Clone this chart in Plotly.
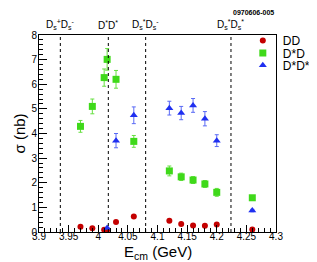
import plotly.graph_objects as go

# ---- data ----
dd_E = [3.97, 3.99, 4.01, 4.015, 4.03, 4.06, 4.12, 4.14, 4.16, 4.18, 4.20, 4.26]
dd_sigma = [0.21, 0.15, 0.09, 0.08, 0.41, 0.63, 0.46, 0.32, 0.26, 0.25, 0.30, 0.10]
dd_err = [0.03, 0.03, 0.02, 0.02, 0.04, 0.05, 0.04, 0.03, 0.03, 0.03, 0.03, 0.02]

dsd_E = [3.97, 3.99, 4.01, 4.015, 4.03, 4.06, 4.12, 4.14, 4.16, 4.18, 4.20, 4.26]
dsd_sigma = [4.29, 5.10, 6.27, 7.01, 6.20, 3.68, 2.48, 2.24, 2.11, 1.95, 1.61, 1.39]
dsd_err = [0.24, 0.30, 0.35, 0.44, 0.36, 0.24, 0.20, 0.15, 0.14, 0.14, 0.16, 0.06]

dsds_E = [4.015, 4.03, 4.06, 4.12, 4.14, 4.16, 4.18, 4.20, 4.26]
dsds_sigma = [0.16, 3.71, 4.74, 5.03, 4.83, 5.14, 4.60, 3.71, 0.87]
dsds_err = [0.03, 0.29, 0.34, 0.28, 0.27, 0.28, 0.29, 0.24, 0.05]

thresholds = [3.936, 4.017, 4.080, 4.224]
threshold_labels = [
    "D<sub>s</sub><sup>+</sup>D<sub>s</sub><sup>-</sup>",
    "D<sup>*</sup>D<sup>*</sup>",
    "D<sub>s</sub><sup>*</sup>D<sub>s</sub><sup>-</sup>",
    "D<sub>s</sub><sup>*</sup>D<sub>s</sub><sup>*</sup>",
]

FONT = "Liberation Sans, Arial, sans-serif"
RED = "#c40000"
GREEN = "#3fd91a"
BLUE = "#1f2ff0"

fig = go.Figure()
fig.add_trace(go.Scatter(
    x=dd_E, y=dd_sigma, mode="markers", name="DD", legend="legend",
    marker=dict(symbol="circle", size=6, color=RED),
    error_y=dict(type="data", array=dd_err, color=RED, thickness=1, width=0),
))
fig.add_trace(go.Scatter(
    x=dsd_E, y=dsd_sigma, mode="markers", name="D*D", legend="legend2",
    marker=dict(symbol="square", size=7, color=GREEN),
    error_y=dict(type="data", array=dsd_err, color="#66e040", thickness=1, width=2),
))
fig.add_trace(go.Scatter(
    x=dsds_E, y=dsds_sigma, mode="markers", name="D*D*", legend="legend3",
    marker=dict(symbol="triangle-up", size=7, color=BLUE),
    error_y=dict(type="data", array=dsds_err, color="#5a6af5", thickness=1, width=2),
))

for xv, lab in zip(thresholds, threshold_labels):
    fig.add_shape(type="line", xref="x", yref="paper", x0=xv, x1=xv, y0=0, y1=1,
                  line=dict(color="black", width=1, dash="dot"))
    fig.add_annotation(x=xv, xref="x", y=1.0, yref="paper", yanchor="bottom", yshift=2,
                       text=lab, showarrow=False,
                       font=dict(family=FONT, size=10, color="black"))

fig.add_annotation(x=1.0, xref="paper", y=1.0, yref="paper", yanchor="middle", yshift=23,
                   xanchor="right", text="<b>0970606-005</b>", showarrow=False,
                   font=dict(family=FONT, size=7, color="black"))

fig.add_annotation(x=0.5, xref="paper", y=0, yref="paper", yanchor="middle", yshift=-20,
                   text="E<sub>cm</sub> (GeV)", showarrow=False,
                   font=dict(family=FONT, size=15, color="black"))
fig.add_annotation(x=0, xref="paper", xanchor="center", xshift=-20, y=0.5, yref="paper",
                   yanchor="middle",
                   text="σ (nb)", textangle=-90, showarrow=False,
                   font=dict(family=FONT, size=15, color="black"))

leg_common = dict(xanchor="left", yanchor="middle", bgcolor="rgba(0,0,0,0)",
                  font=dict(family=FONT, size=12, color="black"), itemwidth=30,
                  borderwidth=0)

fig.update_layout(
    width=317, height=262,
    margin=dict(l=31, r=9, t=27, b=38),
    paper_bgcolor="white", plot_bgcolor="white",
    font=dict(family=FONT, size=10, color="black"),
    showlegend=True,
    legend=dict(x=0.86, y=0.972, **leg_common),
    legend2=dict(x=0.86, y=0.909, **leg_common),
    legend3=dict(x=0.86, y=0.846, **leg_common),
    xaxis=dict(range=[3.9, 4.3], dtick=0.05, tick0=3.9, ticks="inside", ticklen=7,
               tickcolor="black", showgrid=False, zeroline=False,
               showline=True, linecolor="black", linewidth=1, mirror=True,
               tickfont=dict(family=FONT, size=10), ticklabelstandoff=-5,
               minor=dict(dtick=0.01, ticks="inside", ticklen=4, tickcolor="black", showgrid=False)),
    yaxis=dict(range=[0, 8], dtick=1, ticks="inside", ticklen=8,
               tickcolor="black", showgrid=False, zeroline=False,
               showline=True, linecolor="black", linewidth=1, mirror=True,
               tickfont=dict(family=FONT, size=10), ticklabelstandoff=-1,
               minor=dict(dtick=0.2, ticks="inside", ticklen=4, tickcolor="black", showgrid=False)),
)

fig.write_html("out.html")
